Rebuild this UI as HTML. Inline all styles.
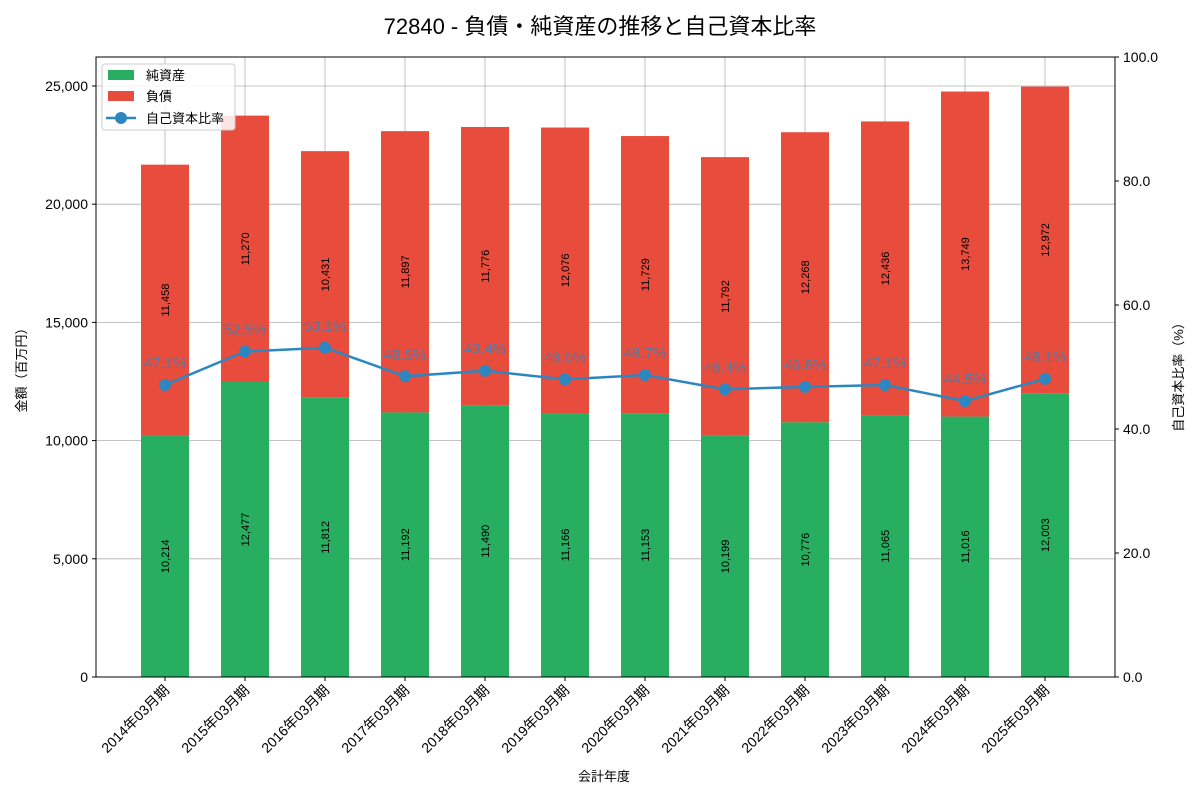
<!DOCTYPE html>
<html><head><meta charset="utf-8"><style>
body{margin:0;background:#fff;font-family:"Liberation Sans","Noto Sans CJK JP",sans-serif}
svg text{font-family:"Liberation Sans","Noto Sans CJK JP",sans-serif}
</style></head><body>
<svg id="c" width="1200" height="800" viewBox="0 0 1200 800" xmlns="http://www.w3.org/2000/svg">
<text x="600" y="34" text-anchor="middle" font-size="22" fill="#000">72840 - 負債・純資産の推移と自己資本比率</text>
<g id="grid"></g><g id="bars"></g><g id="line"></g><g id="axes"></g>
</svg>
<script>
const categories=["2014年03月期","2015年03月期","2016年03月期","2017年03月期","2018年03月期","2019年03月期","2020年03月期","2021年03月期","2022年03月期","2023年03月期","2024年03月期","2025年03月期"];
const equity=[10214,12477,11812,11192,11490,11166,11153,10199,10776,11065,11016,12003];
const liabilities=[11458,11270,10431,11897,11776,12076,11729,11792,12268,12436,13749,12972];
const ratio=[47.1,52.5,53.1,48.5,49.4,48.0,48.7,46.4,46.8,47.1,44.5,48.1];
const leftTicks=[0,5000,10000,15000,20000,25000];
const rightTicks=[0,20,40,60,80,100];
const NS="http://www.w3.org/2000/svg";
const L=96,R=1115,T=57,B=677,LMAX=26226;
const y=v=>B-(v/LMAX)*(B-T);
const yr=v=>B-(v/100)*(B-T);
const x=i=>165+80*i;
const BW=48;
function mk(tag,attrs,parent,txt){const e=document.createElementNS(NS,tag);for(const k in attrs)e.setAttribute(k,attrs[k]);if(txt!==undefined)e.textContent=txt;parent.appendChild(e);return e;}
const grid=document.getElementById('grid'),bars=document.getElementById('bars'),line=document.getElementById('line'),axes=document.getElementById('axes');
leftTicks.forEach(t=>{const g=mk('line',{x1:L,x2:R,y1:y(t),y2:y(t),stroke:'#b0b0b0','stroke-width':0.8},grid);

});
categories.forEach((c,i)=>{const g=mk('line',{x1:x(i),x2:x(i),y1:T,y2:B,stroke:'#b0b0b0','stroke-width':0.8},grid);

});
categories.forEach((c,i)=>{
 const e=mk('rect',{x:x(i)-BW/2,y:y(equity[i]),width:BW,height:B-y(equity[i]),fill:'#27ae60'},bars);
 
 
 const top=equity[i]+liabilities[i];
 const l=mk('rect',{x:x(i)-BW/2,y:y(top),width:BW,height:y(equity[i])-y(top),fill:'#e74c3c'},bars);
 
 
 const cy1=y(equity[i]/2),cy2=y(equity[i]+liabilities[i]/2);
 const t1=mk('text',{x:x(i)+4,y:cy1,'font-size':11,'text-anchor':'middle',transform:`rotate(-90 ${x(i)+4} ${cy1})`},bars,equity[i].toLocaleString('en-US'));
 
 
 const t2=mk('text',{x:x(i)+4,y:cy2,'font-size':11,'text-anchor':'middle',transform:`rotate(-90 ${x(i)+4} ${cy2})`},bars,liabilities[i].toLocaleString('en-US'));
 
 
});
const pl=mk('polyline',{points:ratio.map((r,i)=>x(i)+','+yr(r)).join(' '),fill:'none',stroke:'#2e86c1','stroke-width':2.5},line);


ratio.forEach((r,i)=>{
 const c=mk('circle',{cx:x(i),cy:yr(r),r:6,fill:'#2e86c1'},line);
 
 
 const t=mk('text',{x:x(i),y:yr(r)-17,'font-size':15,'text-anchor':'middle',fill:'#2e86c1','fill-opacity':0.8},line,r.toFixed(1)+'%');
 
 
});
mk('rect',{x:L,y:T,width:R-L,height:B-T,fill:'none',stroke:'#000','stroke-width':1},axes);
leftTicks.forEach(t=>{mk('line',{x1:L-4,x2:L,y1:y(t),y2:y(t),stroke:'#000'},axes);
 const e=mk('text',{x:L-8,y:y(t)+5,'font-size':14,'text-anchor':'end'},axes,t.toLocaleString('en-US'));
 
 });
rightTicks.forEach(t=>{mk('line',{x1:R,x2:R+4,y1:yr(t),y2:yr(t),stroke:'#000'},axes);
 const e=mk('text',{x:R+8,y:yr(t)+5,'font-size':14},axes,t.toFixed(1));
 
 });
categories.forEach((c,i)=>{mk('line',{x1:x(i),x2:x(i),y1:B,y2:B+4,stroke:'#000'},axes);
 const e=mk('text',{x:x(i)+5,y:B+14,'font-size':14,'text-anchor':'end',transform:`rotate(-45 ${x(i)+5} ${B+14})`},axes,c);
 
 });
</script>
<svg style="position:absolute;left:0;top:0" width="1200" height="800">
<text x="604" y="781" text-anchor="middle" font-size="13">会計年度</text>
<text transform="translate(26 367) rotate(-90)" text-anchor="middle" font-size="13">金額（百万円）</text>
<text transform="translate(1183 374) rotate(-90)" text-anchor="middle" font-size="13">自己資本比率（%）</text>
<g>
<rect x="102" y="64" width="133" height="66" rx="3" fill="#fff" fill-opacity="0.85" stroke="#ccc"/>
<rect x="108" y="70" width="26" height="10" fill="#27ae60"/>
<text x="146" y="80" font-size="13">純資産</text>
<rect x="108" y="91" width="26" height="10" fill="#e74c3c"/>
<text x="146" y="101" font-size="13">負債</text>
<line x1="106" x2="136" y1="118" y2="118" stroke="#2e86c1" stroke-width="2.5"/>
<circle cx="121" cy="118" r="6" fill="#2e86c1"/>
<text x="146" y="123" font-size="13">自己資本比率</text>
</g>
</svg>
</body></html>
